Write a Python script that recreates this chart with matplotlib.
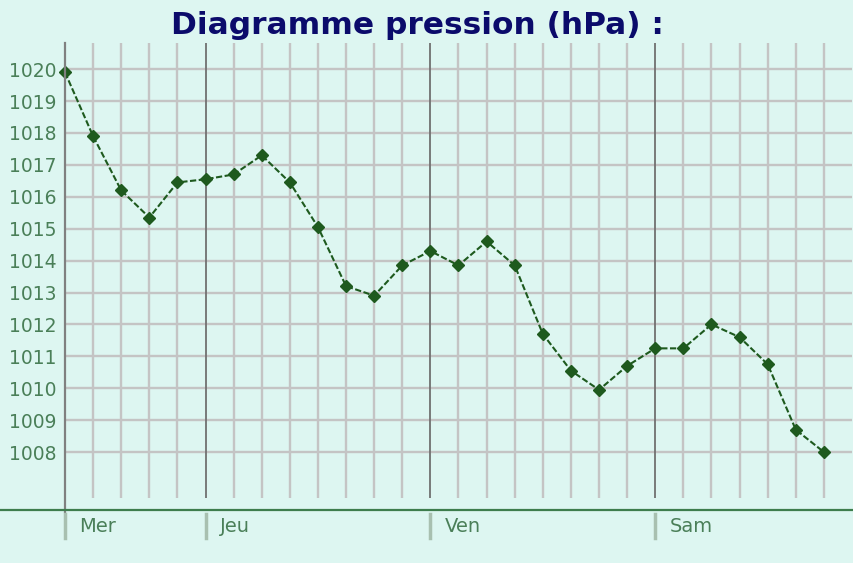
import matplotlib
matplotlib.use("Agg")
import matplotlib.pyplot as plt
from matplotlib.lines import Line2D
import matplotlib.transforms as mtransforms

# ---- data ----
pressure = [1019.9, 1017.9, 1016.2, 1015.35, 1016.45, 1016.55, 1016.7, 1017.3,
            1016.45, 1015.05, 1013.2, 1012.9, 1013.85, 1014.3, 1013.85, 1014.6,
            1013.85, 1011.7, 1010.55, 1009.95, 1010.7, 1011.25, 1011.25, 1012.0,
            1011.6, 1010.75, 1008.7, 1008.0]
day_labels = ["Mer", "Jeu", "Ven", "Sam"]
day_index = [0, 5, 13, 21]
y_ticks = list(range(1008, 1021))

W, H = 854, 563
bg = "#ddf6f1"
fig = plt.figure(figsize=(W / 100, H / 100), dpi=100, facecolor=bg)

left, right, top, bottom = 65, 852, 43, 498
ax = fig.add_axes([left / W, 1 - bottom / H, (right - left) / W, (bottom - top) / H])
ax.set_facecolor(bg)
x = list(range(len(pressure)))
ax.set_xlim(0, 28.0)
ax.set_ylim(1006.56, 1020.82)

# grid
for i in range(0, len(pressure)):
    if i in day_index:
        continue
    ax.axvline(i, color="#c4c4c4", lw=1.7, zorder=1)
for v in y_ticks:
    ax.axhline(v, color="#c4c4c4", lw=1.7, zorder=1)
for d in day_index[1:]:
    ax.axvline(d, color="#707070", lw=1.3, zorder=2)

for s in ax.spines.values():
    s.set_visible(False)
ax.set_xticks([])
ax.set_yticks(y_ticks)
ax.set_yticklabels([str(v) for v in y_ticks], color="#4a7f58", fontsize=13.5)
ax.tick_params(axis="y", length=0, pad=6)

ax.plot(x, pressure, color="#1e5a1e", lw=1.5, linestyle=(0, (3, 1.2)),
        marker="D", markersize=6, markerfacecolor="#1e5a1e",
        markeredgecolor="#1e5a1e", zorder=5, clip_on=False)

# left axis line
fig.add_artist(Line2D([left / W, left / W], [1 - top / H, 1 - 512 / H],
                      color="#808080", lw=1.6))
# bottom green axis line
fig.add_artist(Line2D([0, 1], [1 - 510 / H, 1 - 510 / H], color="#3d7d4d", lw=1.6))

# day ticks and labels
trans = mtransforms.blended_transform_factory(ax.transData, fig.transFigure)
for d, lab in zip(day_index, day_labels):
    fig.add_artist(Line2D([d, d], [1 - 514 / H, 1 - 538 / H], color="#a8c0b0",
                          lw=2.5, transform=trans))
    ax.text(d + 0.5, 1 - 526 / H, lab, transform=trans, color="#4a7f58",
            fontsize=14, va="center", ha="left", clip_on=False)

fig.text(417 / W, 1 - 26 / H, "Diagramme pression (hPa) :", ha="center",
         va="center", fontsize=22.5, fontweight="bold", color="#0b0b6b",
         family="DejaVu Sans")

fig.savefig("out.png", dpi=100, facecolor=bg)
